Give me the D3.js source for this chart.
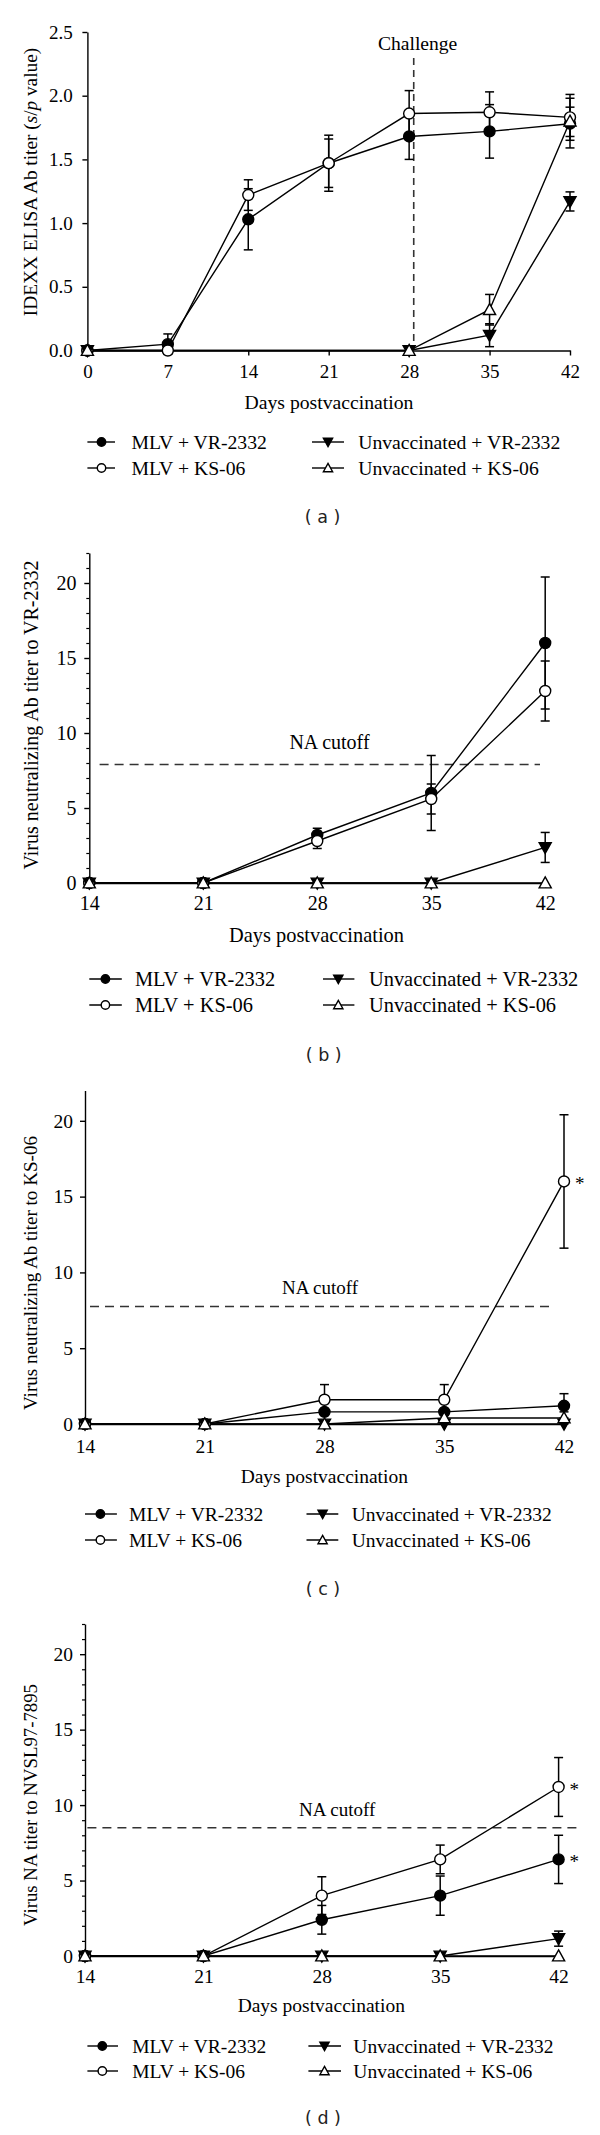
<!DOCTYPE html>
<html><head><meta charset="utf-8">
<script src="https://cdn.jsdelivr.net/npm/d3@7"></script>
<style>body{margin:0;background:#fff}</style>
</head><body><svg id="c" width="600" height="2135"></svg>
<script>
// ---------- DATA ----------
const seriesNames = ["MLV + VR-2332", "MLV + KS-06", "Unvaccinated + VR-2332", "Unvaccinated + KS-06"];
const xLabel = "Days postvaccination";

// Panel (a) IDEXX ELISA
const daysA = [0, 7, 14, 21, 28, 35, 42];
const daysAUnvac = [0, 28, 35, 42];
const aTicksX = [0, 7, 14, 21, 28, 35, 42];
const aTicksY = [0, 0.5, 1.0, 1.5, 2.0, 2.5];
const aMlvVr = [0, 0.05, 1.03, 1.47, 1.68, 1.72, 1.78];
const aMlvVrErr = [0, 0.08, 0.24, 0.22, 0.18, 0.21, 0.13];
const aMlvKs = [0, 0, 1.22, 1.47, 1.86, 1.87, 1.83];
const aMlvKsErr = [0, 0, 0.12, 0.19, 0.18, 0.16, 0.15];
const aUnVr = [0, 0, 0.12, 1.17];
const aUnVrErr = [0, 0, 0.09, 0.075];
const aUnKs = [0, 0, 0.32, 1.80];
const aUnKsErr = [0, 0, 0.12, 0.21];
const challengeDay = 28.4;

// Panels (b)-(d)
const daysNA = [14, 21, 28, 35, 42];
const naTicksY = [0, 5, 10, 15, 20];

const bMlvVr = [0, 0, 3.2, 6.0, 16.0];
const bMlvVrErr = [0, 0, 0.45, 2.5, 4.4];
const bMlvKs = [0, 0, 2.8, 5.6, 12.8];
const bMlvKsErr = [0, 0, 0.5, 1.0, 2.0];
const bUnVr = [0, 0, 0, 0, 2.37];
const bUnVrErr = [0, 0, 0, 0, 1.0];
const bUnKs = [0, 0, 0, 0, 0];
const bCutoff = 7.9;

const cMlvVr = [0, 0, 0.8, 0.8, 1.2];
const cMlvVrErr = [0, 0, 0, 0, 0.8];
const cMlvKs = [0, 0, 1.6, 1.6, 16.0];
const cMlvKsErr = [0, 0, 1.0, 1.0, 4.4];
const cUnVr = [0, 0, 0, 0, 0];
const cUnKs = [0, 0, 0, 0.4, 0.4];
const cUnKsErr = [0, 0, 0, 0, 0.4];
const cCutoff = 7.75;

const dMlvVr = [0, 0, 2.4, 4.0, 6.4];
const dMlvVrErr = [0, 0, 0.95, 1.3, 1.6];
const dMlvKs = [0, 0, 4.0, 6.4, 11.2];
const dMlvKsErr = [0, 0, 1.25, 0.95, 1.95];
const dUnVr = [0, 0, 0, 0, 1.15];
const dUnVrErr = [0, 0, 0, 0, 0.5];
const dUnKs = [0, 0, 0, 0, 0];
const dCutoff = 8.5;

const zeros5 = [0, 0, 0, 0, 0];

// ---------- DRAWING ----------
const svg = d3.select('#c');
svg.append('rect').attr('width', 600).attr('height', 2135).attr('fill', '#fff');
const serif = '"Liberation Serif","Times New Roman",serif';
const sans = '"DejaVu Sans",sans-serif';

function triPath(up, s) {
  const h = s * 1.0, b = s * 0.8;
  return up ? `M0,${-h} L${s},${b} L${-s},${b} Z` : `M0,${h} L${s},${-b} L${-s},${-b} Z`;
}
function drawMarker(g, sym, cx, cy, r) {
  if (sym === 'fc' || sym === 'oc') {
    g.append('circle').attr('cx', cx).attr('cy', cy).attr('r', r)
      .attr('fill', sym === 'fc' ? '#000' : '#fff').attr('stroke', '#000').attr('stroke-width', 1.4);
  } else {
    g.append('path').attr('d', triPath(sym === 'tu', r * 1.1))
      .attr('transform', `translate(${cx},${cy})`)
      .attr('fill', sym === 'td' ? '#000' : '#fff').attr('stroke', '#000').attr('stroke-width', 1.4);
  }
}

const panels = [
  { key: 'a', x0: 87.4, x1: 570, xDom: [0, 42], yb: 350.5, yt: 32, yDom: [0, 2.5],
    ticksX: aTicksX, ticksY: aTicksY, fmt: d3.format('.1f'), minor: false,
    fs: 19, xPad: 9, yTick: 5, yPad: 9.6, lfs: 19.7,
    series: [
      { days: daysA, v: aMlvVr, e: aMlvVrErr, sym: 'fc' },
      { days: daysA, v: aMlvKs, e: aMlvKsErr, sym: 'oc' },
      { days: daysAUnvac, v: aUnVr, e: aUnVrErr, sym: 'td' },
      { days: daysAUnvac, v: aUnKs, e: aUnKsErr, sym: 'tu' }],
    ylab: 'a', ylabY: 182, ylabFs: 19.3, daysX: 329, daysY: 402, leg: [442, 468],
    legX: [87.4, 115, 101.5, 131.4, 312, 344, 328, 358.2], plabY: 517, plabX: 322.6 },
  { key: 'b', x0: 89.3, x1: 545.2, xDom: [14, 42], yb: 883, yt: 553, yDom: [0, 22],
    ticksX: daysNA, ticksY: naTicksY, fmt: d3.format('d'), minor: true,
    fs: 20, xPad: 7.6, yTick: 5, yPad: 7.7, lfs: 20.4,
    series: [
      { days: daysNA, v: bMlvVr, e: bMlvVrErr, sym: 'fc' },
      { days: daysNA, v: bMlvKs, e: bMlvKsErr, sym: 'oc' },
      { days: daysNA, v: bUnVr, e: bUnVrErr, sym: 'td' },
      { days: daysNA, v: bUnKs, e: zeros5, sym: 'tu' }],
    cutoff: bCutoff, cutX: [99.6, 540], cutLabX: 329.5, cutLabDy: -23, cutFs: 20,
    ylab: 'Virus neutralizing Ab titer to VR-2332', ylabY: 715, ylabFs: 20, daysX: 316.5, daysY: 935, leg: [979, 1005],
    legX: [89.3, 121.8, 105.4, 134.9, 323, 354.4, 338.3, 369], plabY: 1055, plabX: 323.7 },
  { key: 'c', x0: 85, x1: 564, xDom: [14, 42], yb: 1424, yt: 1090.5, yDom: [0, 22],
    ticksX: daysNA, ticksY: naTicksY, fmt: d3.format('d'), minor: false,
    fs: 19.5, xPad: 10.6, yTick: 5, yPad: 7, lfs: 19.5,
    series: [
      { days: daysNA, v: cMlvVr, e: cMlvVrErr, sym: 'fc' },
      { days: daysNA, v: cMlvKs, e: cMlvKsErr, sym: 'oc' },
      { days: daysNA, v: cUnVr, e: zeros5, sym: 'td' },
      { days: daysNA, v: cUnKs, e: cUnKsErr, sym: 'tu' }],
    cutoff: cCutoff, cutX: [90, 549.8], cutLabX: 320, cutLabDy: -19, cutFs: 19,
    stars: [{ day: 42, v: 16.0 }],
    ylab: 'Virus neutralizing Ab titer to KS-06', ylabY: 1273, ylabFs: 19.1, daysX: 324.3, daysY: 1476, leg: [1514, 1540],
    legX: [85, 116.9, 100.4, 129.1, 306.5, 338.3, 322.6, 351.7], plabY: 1589, plabX: 323 },
  { key: 'd', x0: 85, x1: 558.6, xDom: [14, 42], yb: 1956, yt: 1624, yDom: [0, 22],
    ticksX: daysNA, ticksY: naTicksY, fmt: d3.format('d'), minor: true,
    fs: 19.5, xPad: 8.6, yTick: 5, yPad: 7, lfs: 19.5,
    series: [
      { days: daysNA, v: dMlvVr, e: dMlvVrErr, sym: 'fc' },
      { days: daysNA, v: dMlvKs, e: dMlvKsErr, sym: 'oc' },
      { days: daysNA, v: dUnVr, e: dUnVrErr, sym: 'td' },
      { days: daysNA, v: dUnKs, e: zeros5, sym: 'tu' }],
    cutoff: dCutoff, cutX: [87.4, 578.5], cutLabX: 337.2, cutLabDy: -18, cutFs: 19,
    stars: [{ day: 42, v: 11.2 }, { day: 42, v: 6.4 }],
    ylab: 'Virus NA titer to NVSL97-7895', ylabY: 1805, ylabFs: 18.8, daysX: 321.3, daysY: 2005, leg: [2046, 2071],
    legX: [87.4, 118, 102.3, 132.2, 308.4, 341, 324.5, 353.3], plabY: 2118, plabX: 323 }
];

panels.forEach(p => {
  const x = d3.scaleLinear().domain(p.xDom).range([p.x0, p.x1]);
  const y = d3.scaleLinear().domain(p.yDom).range([p.yb, p.yt]);
  const g = svg.append('g');

  // axes
  const gx = g.append('g').attr('transform', `translate(0,${p.yb})`)
    .call(d3.axisBottom(x).tickValues(p.ticksX).tickFormat(d3.format('d')).tickSize(5).tickSizeOuter(0).tickPadding(p.xPad));
  const gy = g.append('g').attr('transform', `translate(${p.x0},0)`)
    .call(d3.axisLeft(y).tickValues(p.ticksY).tickFormat(p.fmt).tickSize(p.yTick).tickSizeOuter(0).tickPadding(p.yPad));
  if (p.minor) {
    g.append('g').attr('transform', `translate(${p.x0},0)`)
      .call(d3.axisLeft(y).tickValues(d3.range(1, 23).filter(v => v % 5 !== 0)).tickFormat('').tickSize(3).tickSizeOuter(0))
      .call(a => a.select('.domain').remove())
      .selectAll('line').attr('stroke', '#000').attr('stroke-width', 1.2);
  }
  [gx, gy].forEach(a => {
    a.selectAll('path,line').attr('stroke', '#000').attr('stroke-width', 1.4);
    a.selectAll('text').attr('font-family', serif).attr('font-size', p.fs).attr('fill', '#000');
  });

  // cutoff / challenge lines
  if (p.key === 'a') {
    g.append('line').attr('x1', x(challengeDay)).attr('x2', x(challengeDay))
      .attr('y1', 58).attr('y2', p.yb).attr('stroke', '#333').attr('stroke-width', 1.6).attr('stroke-dasharray', '7,5');
    g.append('text').attr('x', 417.6).attr('y', 43).attr('dy', '0.35em').attr('text-anchor', 'middle')
      .attr('font-family', serif).attr('font-size', 19.6).text('Challenge');
  } else {
    g.append('line').attr('x1', p.cutX[0]).attr('x2', p.cutX[1]).attr('y1', y(p.cutoff)).attr('y2', y(p.cutoff))
      .attr('stroke', '#333').attr('stroke-width', 1.6).attr('stroke-dasharray', '9,6');
    g.append('text').attr('x', p.cutLabX).attr('y', y(p.cutoff) + p.cutLabDy).attr('dy', '0.35em')
      .attr('text-anchor', 'middle').attr('font-family', serif).attr('font-size', p.cutFs).text('NA cutoff');
  }

  const line = d3.line().x(d => x(d[0])).y(d => y(d[1]));
  // lines
  p.series.forEach(s => {
    g.append('path').attr('d', line(s.days.map((d, i) => [d, s.v[i]])))
      .attr('fill', 'none').attr('stroke', '#000').attr('stroke-width', 1.4);
  });
  // error bars
  p.series.forEach(s => {
    s.days.forEach((d, i) => {
      const e = s.e[i];
      if (!e) return;
      const cx = x(d), yt = y(s.v[i] + e), yb2 = y(s.v[i] - e);
      g.append('line').attr('x1', cx).attr('x2', cx).attr('y1', yt).attr('y2', yb2).attr('stroke', '#000').attr('stroke-width', 1.5);
      [yt, yb2].forEach(yy => g.append('line').attr('x1', cx - 4.5).attr('x2', cx + 4.5).attr('y1', yy).attr('y2', yy)
        .attr('stroke', '#000').attr('stroke-width', 1.5));
    });
  });
  // markers
  p.series.forEach(s => {
    s.days.forEach((d, i) => drawMarker(g, s.sym, x(d), y(s.v[i]), 5.5));
  });
  // stars
  (p.stars || []).forEach(st => {
    g.append('text').attr('x', x(st.day) + 11).attr('y', y(st.v) + 2).attr('dy', '0.35em')
      .attr('font-family', serif).attr('font-size', 19).text('*');
  });

  // y label
  const yl = g.append('text').attr('transform', `translate(30.6,${p.ylabY}) rotate(-90)`)
    .attr('text-anchor', 'middle').attr('dy', '0.35em').attr('font-family', serif).attr('font-size', p.ylabFs);
  if (p.key === 'a') {
    yl.append('tspan').text('IDEXX ELISA Ab titer (');
    yl.append('tspan').attr('font-style', 'italic').text('s');
    yl.append('tspan').text('/');
    yl.append('tspan').attr('font-style', 'italic').text('p');
    yl.append('tspan').text(' value)');
  } else {
    yl.text(p.ylab);
  }

  // x label
  g.append('text').attr('x', p.daysX).attr('y', p.daysY).attr('dy', '0.35em')
    .attr('text-anchor', 'middle').attr('font-family', serif).attr('font-size', p.lfs).text(xLabel);

  // legend
  const L = p.legX;
  const legItems = [
    { sym: 'fc', col: 0, row: 0 }, { sym: 'oc', col: 0, row: 1 },
    { sym: 'td', col: 1, row: 0 }, { sym: 'tu', col: 1, row: 1 }];
  legItems.forEach((it, k) => {
    const o = it.col * 4, yy = p.leg[it.row];
    g.append('line').attr('x1', L[o]).attr('x2', L[o + 1]).attr('y1', yy).attr('y2', yy)
      .attr('stroke', '#000').attr('stroke-width', 1.4);
    drawMarker(g, it.sym, L[o + 2], yy, 4.2);
    g.append('text').attr('x', L[o + 3]).attr('y', yy).attr('dy', '0.35em')
      .attr('font-family', serif).attr('font-size', p.lfs).text(seriesNames[k]);
  });

  // panel label
  g.append('text').attr('x', p.plabX).attr('y', p.plabY).attr('dy', '0.35em').attr('text-anchor', 'middle')
    .attr('font-family', sans).attr('font-size', 17.5).attr('fill', '#222').text(`( ${p.key} )`);
});
</script></body></html>
